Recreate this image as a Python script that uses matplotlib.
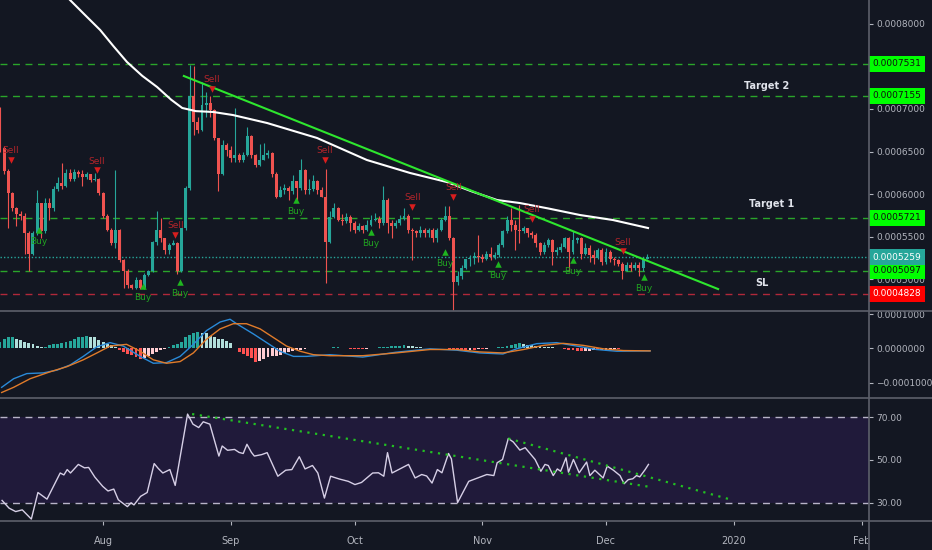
import numpy as np
import matplotlib.pyplot as plt
from matplotlib.lines import Line2D
from matplotlib.patches import Rectangle
from matplotlib.ticker import FuncFormatter

# daily candles, day 0 = 1 Aug 2019, prices in units of 1e-7
days = np.arange(-25, 133)
first_open = 7000
close = np.array([
    6540, 6270, 6010, 5830, 5770, 5740, 5540, 5300, 5540, 5890,
    5560, 5900, 5830, 6060, 6130, 6090, 6250, 6180, 6260, 6240,
    6200, 6230, 6170, 6180, 6010, 5740, 5580, 5420, 5580, 5220,
    5100, 4930, 4900, 4990, 4890, 5050, 5090, 5440, 5580, 5480,
    5340, 5400, 5420, 5090, 5600, 6070, 7150, 6850, 6750, 7050,
    7070, 6990, 6660, 6240, 6580, 6520, 6420, 6460, 6400, 6460,
    6680, 6460, 6340, 6400, 6460, 6480, 6240, 5970, 6050, 6070,
    6030, 6150, 6070, 6280, 6050, 6060, 6150, 6050, 5970, 5440,
    5730, 5830, 5700, 5680, 5730, 5660, 5580, 5620, 5580, 5640,
    5700, 5710, 5660, 5930, 5660, 5620, 5660, 5710, 5740, 5580,
    5560, 5540, 5580, 5540, 5580, 5480, 5580, 5700, 5740, 5480,
    4970, 5030, 5130, 5230, 5250, 5270, 5260, 5240, 5300, 5260,
    5280, 5400, 5560, 5700, 5640, 5580, 5560, 5600, 5540, 5520,
    5420, 5320, 5400, 5460, 5320, 5340, 5380, 5480, 5320, 5460,
    5480, 5300, 5360, 5280, 5250, 5340, 5200, 5320, 5240, 5220,
    5180, 5100, 5160, 5130, 5160, 5130, 5240, 5259])
high = np.array([
    7020, 6560, 6300, 6020, 5850, 5800, 5780, 5560, 5560, 6050,
    5900, 5950, 5950, 6100, 6200, 6360, 6290, 6300, 6300, 6280,
    6280, 6260, 6230, 6250, 6190, 6020, 5760, 5600, 6280, 5590,
    5230, 5120, 4940, 5020, 5000, 5070, 5110, 5450, 5800, 5720,
    5480, 5420, 5460, 5430, 5600, 6100, 7520, 7500, 6900, 7320,
    7200, 7150, 7000, 6660, 6640, 6600, 6560, 7010, 6480, 6500,
    6790, 6700, 6470, 6590, 6600, 6520, 6500, 6260, 6100, 6120,
    6100, 6220, 6150, 6410, 6300, 6180, 6220, 6160, 6080, 6300,
    5800, 5900, 5850, 5760, 5780, 5750, 5680, 5660, 5640, 5700,
    5750, 5780, 5740, 6090, 5950, 5700, 5700, 5750, 5840, 5760,
    5600, 5580, 5620, 5600, 5600, 5600, 5600, 5720, 5860, 5860,
    5500, 5100, 5160, 5240, 5280, 5320, 5520, 5300, 5330, 5380,
    5320, 5420, 5580, 5740, 5830, 5700, 5870, 5620, 5600, 5560,
    5540, 5440, 5440, 5480, 5470, 5380, 5420, 5500, 5500, 5560,
    5500, 5500, 5420, 5400, 5340, 5360, 5360, 5360, 5340, 5260,
    5240, 5200, 5200, 5200, 5200, 5200, 5260, 5290])
low = np.array([
    6500, 6240, 5600, 5800, 5620, 5700, 5300, 5090, 5280, 5520,
    5480, 5540, 5700, 5800, 6040, 6060, 6080, 6150, 6150, 6200,
    6100, 6180, 6140, 6150, 5990, 5720, 5560, 5400, 5360, 5200,
    4900, 4900, 4880, 4880, 4880, 4880, 5040, 5080, 5400, 5440,
    5300, 5300, 5400, 5060, 5080, 5580, 6050, 6700, 6720, 6740,
    6900, 6900, 6640, 6040, 6220, 6450, 6380, 6380, 6380, 6380,
    6450, 6420, 6320, 6330, 6400, 6420, 6200, 5950, 5960, 6000,
    5930, 6000, 5910, 6050, 6000, 6000, 6040, 6000, 5960, 4950,
    5420, 5720, 5680, 5630, 5660, 5560, 5540, 5560, 5540, 5560,
    5620, 5680, 5600, 5640, 5540, 5480, 5600, 5640, 5700, 5540,
    5220, 5500, 5500, 5500, 5500, 5440, 5440, 5560, 5680, 5460,
    4630, 4930, 5000, 5120, 5150, 5180, 5200, 5200, 5220, 5220,
    5240, 5260, 5380, 5540, 5560, 5340, 5420, 5540, 5500, 5480,
    5380, 5280, 5300, 5380, 5160, 5280, 5320, 5360, 5100, 5300,
    5420, 5240, 5280, 5200, 5180, 5230, 5160, 5180, 5200, 5160,
    5150, 5000, 5090, 5100, 5110, 5040, 5100, 5230])

# white moving average (day, price)
ma_day = [-9, -4.8, -0.7, 2.5, 5.8, 9.5, 13.1, 16.5, 19.2, 22.5, 26.7, 31.5,
          39.8, 51.9, 64, 74.5, 83.4, 89.5, 95.6, 101.1, 108, 115.7, 123.7, 132.2]
ma_val = [8330, 8126, 7929, 7740, 7553, 7390, 7259, 7110, 7012, 6975, 6965, 6929,
          6835, 6659, 6400, 6247, 6141, 6030, 5929, 5894, 5830, 5753, 5694, 5600]

trend_day = [19.6, 149.2]
trend_val = [7388, 4882]

levels = [7531, 7155, 5721, 5097]
sl_level = 4828
last_price = 5259

sell_day = [-22.3, -1.5, 17.5, 26.4, 53.8, 75.0, 85.0, 104.0, 126.1]
sell_val = [6400, 6282, 5518, 7235, 6400, 5847, 5965, 5706, 5329]
buy_day = [-15.5, 9.7, 18.7, 46.8, 65.0, 83.0, 95.8, 114.0, 131.2]
buy_val = [5576, 4918, 4965, 5929, 5553, 5318, 5176, 5224, 5024]

# MACD, units of 1e-6
hist = np.array([
    19, 27, 34, 34, 29, 24, 20, 17, 12, 7,
    4, 5, 10, 12, 13, 15, 19, 22, 27, 33,
    34, 35, 34, 32, 26, 20, 14, 9, 5, -5,
    -10, -15, -20, -25, -30, -28, -23, -15, -10, -5,
    -2, 4, 9, 14, 19, 32, 39, 45, 47, 46,
    44, 37, 32, 29, 27, 21, 15, 1, -10, -15,
    -21, -28, -38, -35, -30, -25, -23, -21, -18, -13,
    -10, -8, -5, -3, -1, 1, 2, 2, 2, 1,
    2, 3, 3, 2, 1, -1, -2, -2, -2, -1,
    1, 2, 3, 4, 5, 6, 7, 8, 9, 7,
    6, 4, 3, 2, 1, 1, 0, 1, 1, -1,
    -2, -3, -4, -4, -3, -3, -2, -2, -1, 1,
    2, 3, 5, 8, 11, 14, 15, 13, 11, 9,
    7, 6, 5, 4, 3, 2, 1, -2, -4, -5,
    -7, -8, -7, -6, -5, -5, -4, -3, -2, -1,
    -1, 0, 0, 0, 0, 1, 2, 2])
macd_day = [-24.6, -21.7, -18.5, -14.5, -11.2, -8, -4.8, -1.5, 1.7, 4.9, 9, 12.2,
            15.4, 18.7, 21.9, 25.1, 28.4, 30.8, 32.4, 36.5, 39.7, 42.9, 46.2, 49.4,
            55, 63, 71, 79.3, 85.8, 91.4, 97, 100.3, 105.2, 110, 114.9, 119.7, 124.6, 132.7]
macd_val = [-113, -88, -73, -71, -63, -48, -23, 5, 17, 7, -23, -43,
            -41, -23, 12, 52, 77, 85, 72, 42, 17, -8, -23, -23,
            -18, -25, -11, -1, -5, -13, -16, -1, 14, 17, 7, -3, -8, -7]
sig_day = [-24.6, -21.7, -17.7, -12.9, -8.8, -4.8, -1.5, 1.7, 5.7, 9, 12.2, 15.4,
           18.7, 21.9, 25.1, 28.4, 31.6, 34.8, 38.1, 41.3, 44.5, 47.8, 51, 55,
           63, 71, 79.3, 85.8, 91.4, 97, 102, 106.8, 111.6, 116.5, 121.4, 126.2, 132.7]
sig_val = [-128, -113, -88, -68, -53, -33, -13, 7, 12, -8, -33, -43,
           -38, -13, 27, 57, 72, 72, 57, 32, 7, -8, -18, -21,
           -21, -13, -3, -3, -10, -13, -3, 9, 15, 9, -1, -6, -7]

# RSI (day, value)
rsi_day = [-24.5, -22.8, -21.2, -19.6, -17.4, -15.8, -13.6, -10.4, -9.5, -8.7, -7.9, -6.0,
           -4.5, -3.5, -2.0, -0.1, 1.2, 2.6, 3.7, 5.9, 6.8, 7.5, 9.1, 10.7,
           12.4, 13.4, 14.5, 16.2, 17.5, 20.5, 21.8, 23.2, 24.3, 25.9, 28.1, 28.9,
           30.2, 31.9, 33.0, 34.0, 34.9, 36.0, 36.7, 38.5, 39.8, 42.4, 44.3, 45.8,
           47.6, 49.0, 50.8, 52.1, 53.7, 55.2, 57.3, 59.5, 61.1, 62.7, 65.4, 66.8,
           68.1, 69.0, 70.1, 72.5, 74.1, 75.7, 77.3, 78.5, 79.8, 81.1, 82.2, 83.8,
           84.5, 86.0, 88.7, 90.9, 93.1, 94.8, 95.6, 96.9, 98.3, 99.5, 101.1, 102.4,
           104.8, 106.2, 107.2, 108.0, 109.2, 110.2, 111.0, 112.3, 112.9, 114.1, 115.5, 117.3,
           118.1, 119.3, 121.3, 122.3, 123.8, 125.4, 126.4, 127.4, 128.5, 129.4, 130.2, 131.5,
           132.3]
rsi_val = [31.1, 27.5, 25.9, 26.7, 22.4, 34.8, 31.7, 43.9, 43.0, 45.5, 43.9, 47.9,
           46.3, 46.5, 42.0, 37.7, 35.5, 36.4, 31.4, 28.2, 30.0, 29.0, 33.0, 34.8,
           48.3, 46.0, 43.9, 45.5, 38.1, 71.4, 66.7, 65.1, 67.8, 66.7, 51.8, 56.5,
           54.5, 54.9, 53.5, 53.0, 57.3, 53.5, 51.8, 52.5, 53.4, 42.4, 45.2, 45.5,
           51.5, 45.8, 47.4, 43.9, 32.2, 42.4, 41.1, 40.0, 38.5, 39.5, 43.9, 44.0,
           42.4, 53.4, 43.9, 46.3, 47.9, 41.6, 43.2, 42.5, 39.2, 45.5, 44.0, 53.0,
           50.5, 30.1, 40.0, 41.6, 43.2, 42.7, 48.7, 50.2, 60.0, 58.4, 54.6, 55.7,
           50.2, 44.7, 47.9, 47.4, 42.7, 45.8, 44.7, 51.0, 44.3, 50.2, 44.0, 49.0,
           42.7, 45.2, 41.6, 47.1, 45.2, 42.7, 38.9, 40.8, 41.2, 42.7, 42.1, 45.5,
           47.9]
rsi_trend1_day, rsi_trend1_val = [21.6, 132.7], [71.4, 37.4]
rsi_trend2_day, rsi_trend2_val = [98.3, 151.7], [60.0, 31.8]

month_pos = [0, 31, 61, 92, 122, 153, 184]
month_lbl = ['Aug', 'Sep', 'Oct', 'Nov', 'Dec', '2020', 'Feb']

S = 1e-7
BG = '#131722'
TXT = '#b2b5be'
SEP = '#5d606b'
TEAL = '#26a69a'
RED = '#ef5350'
LVL_GREEN = '#2aa52a'
W, H = 932, 550
XL = (-25.0, 185.8)

fig = plt.figure(figsize=(W / 100, H / 100), dpi=100, facecolor=BG)


def panel(top, bottom):
    a = fig.add_axes([0, 1 - bottom / H, 869 / W, (bottom - top) / H])
    a.set_facecolor(BG)
    for s in a.spines.values():
        s.set_visible(False)
    a.set_xlim(*XL)
    a.yaxis.tick_right()
    a.tick_params(axis='y', colors=TXT, labelsize=6.5, length=3, pad=2, width=0.8)
    a.tick_params(axis='x', bottom=False, labelbottom=False)
    return a


def price_box(a, val, fc, tc):
    a.text(1.004, val * S, f'{val * S:.7f}', transform=a.get_yaxis_transform(),
           ha='left', va='center', fontsize=6.5, color=tc, clip_on=False, zorder=6,
           bbox=dict(boxstyle='square,pad=0.38', fc=fc, ec='none'))


ax = panel(0, 311)
axm = panel(311, 398)
axr = panel(398, 521)

# ---- price panel
opens = np.concatenate([[first_open], close[:-1]])
up = close >= opens
cols = np.where(up, TEAL, RED)
ax.vlines(days, low * S, high * S, colors=cols, lw=0.8, zorder=3)
ax.bar(days, np.maximum(np.abs(close - opens), 8) * S, bottom=np.minimum(opens, close) * S,
       width=0.72, color=cols, zorder=3)

ax.plot(ma_day, np.array(ma_val) * S, color='white', lw=1.5, zorder=4)
ax.plot(trend_day, np.array(trend_val) * S, color='#2ee62e', lw=1.5, zorder=4)

for lv in levels:
    ax.axhline(lv * S, color=LVL_GREEN, ls=(0, (5, 4)), lw=1, zorder=2)
    price_box(ax, lv, '#00ff00', '#111111')
ax.axhline(sl_level * S, color='#b0283a', ls=(0, (5, 4)), lw=1, zorder=2)
price_box(ax, sl_level, '#ff0000', 'white')
ax.axhline(last_price * S, color=TEAL, ls=(0, (1, 1.5)), lw=1, zorder=2)
price_box(ax, last_price, TEAL, 'white')

ax.scatter(sell_day, np.array(sell_val) * S, marker='v', s=22, color='#d81e1e', lw=0, zorder=5)
for d, v in zip(sell_day, sell_val):
    ax.annotate('Sell', (d, v * S), xytext=(0, 6.5), textcoords='offset points',
                ha='center', va='center', fontsize=6.5, color='#b3252b', zorder=5)
ax.scatter(buy_day, np.array(buy_val) * S, marker='^', s=22, color='#1fb51f', lw=0, zorder=5)
for d, v in zip(buy_day, buy_val):
    ax.annotate('Buy', (d, v * S), xytext=(0, -8.5), textcoords='offset points',
                ha='center', va='center', fontsize=6.5, color='#21a321', zorder=5)

for lbl, d, v in [('Target 2', 161.0, 7271), ('Target 1', 162.3, 5882), ('SL', 159.8, 4953)]:
    ax.text(d, v * S, lbl, ha='center', va='center', fontsize=7, color='#e0e3eb',
            fontweight='bold', zorder=5)

ax.set_ylim(4624 * S, 8282 * S)
ax.set_yticks(np.array([5000, 5500, 6000, 6500, 7000, 8000]) * S)
ax.yaxis.set_major_formatter(FuncFormatter(lambda v, _: f'{v:.7f}'))

# ---- MACD panel
prev = np.concatenate([[hist[0]], hist[:-1]])
hcols = np.where(hist >= 0, np.where(hist >= prev, '#26a69a', '#b2dfdb'),
                 np.where(hist <= prev, '#ff5252', '#ffcdd2'))
axm.bar(days, hist * 1e-6, width=0.7, color=hcols, zorder=2)
axm.plot(macd_day, np.array(macd_val) * 1e-6, color='#2a8ad8', lw=1, zorder=3)
axm.plot(sig_day, np.array(sig_val) * 1e-6, color='#e07b2a', lw=1, zorder=3)
axm.set_ylim(-144e-6, 109e-6)
axm.set_yticks([-1e-4, 0, 1e-4])
axm.yaxis.set_major_formatter(FuncFormatter(lambda v, _: f'{v:.7f}'.replace('-', '\u2212')))

# ---- RSI panel
axr.axhspan(30, 70, color='#201a3a', lw=0, zorder=1)
for lv in (70, 30):
    axr.axhline(lv, color='#b8b4c8', ls=(0, (5, 4)), lw=1, zorder=2)
axr.plot(rsi_day, rsi_val, color='#d6cfe6', lw=1, zorder=3)
axr.plot(rsi_trend1_day, rsi_trend1_val, color='#22c022', ls=(0, (1, 2.5)), lw=1.6, zorder=3)
axr.plot(rsi_trend2_day, rsi_trend2_val, color='#22c022', ls=(0, (1, 2.5)), lw=1.6, zorder=3)
axr.set_ylim(21.5, 78.9)
axr.set_yticks([30, 50, 70])
axr.yaxis.set_major_formatter(FuncFormatter(lambda v, _: f'{v:.2f}'))
axr.set_xticks(month_pos)
axr.set_xticklabels(month_lbl)
axr.tick_params(axis='x', bottom=True, labelbottom=True, colors=TXT, labelsize=7,
                length=3, pad=8, width=0.8)

# separators and price scale border
for yp in (311, 398, 521):
    fig.add_artist(Line2D([0, 1], [1 - yp / H] * 2, transform=fig.transFigure,
                          color=SEP, lw=1.2, zorder=6))
fig.add_artist(Rectangle((868 / W, 0), 64 / W, 28 / H, transform=fig.transFigure,
                         color=BG, lw=0, zorder=5))
fig.add_artist(Line2D([869 / W] * 2, [0, 1], transform=fig.transFigure,
                      color=SEP, lw=1.2, zorder=6))

fig.savefig('out.png', dpi=100, facecolor=BG)
